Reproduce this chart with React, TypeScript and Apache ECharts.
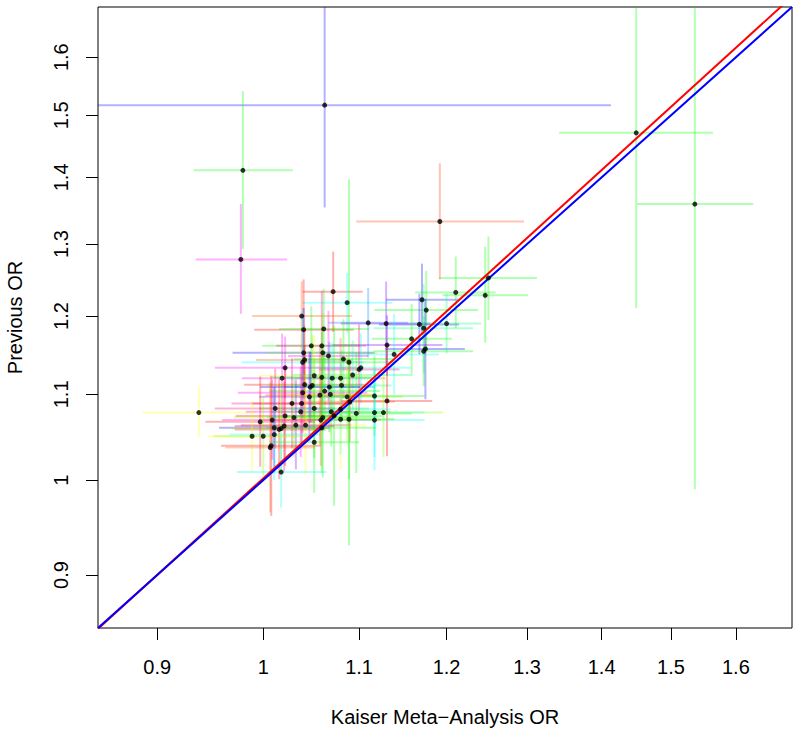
import React, { useEffect, useRef } from 'react';
import * as echarts from 'echarts';

// Kaiser meta-analysis odds ratios (x) with confidence limits
const kaiserOR = [
  1.072, 1.087, 1.039, 1.041, 1.062, 1.110, 1.130, 1.171, 1.176, 1.168,
  1.173, 1.159, 1.131, 1.139, 1.173, 1.175, 1.049, 1.060, 1.041, 1.042,
  1.040, 1.061, 1.067, 1.083, 1.089, 1.102, 1.100, 1.022, 1.019, 1.093,
  1.080, 1.052, 1.060, 1.071, 1.042, 1.050, 1.048, 1.063, 1.068, 1.081,
  1.069, 1.058, 1.040, 1.047, 1.087, 1.117, 1.131, 1.029, 1.039, 1.052,
  1.012, 1.080, 1.090, 1.070, 0.938, 1.038, 1.022, 1.031, 1.061, 1.073,
  1.097, 1.117, 1.127, 1.080, 1.089, 1.059, 0.997, 1.009, 1.033, 1.043,
  1.021, 1.011, 1.016, 1.018, 1.060, 1.117, 0.989, 1.000, 1.011, 1.008,
  1.007, 1.052, 1.018, 1.200, 1.211, 1.247, 1.251, 1.192, 1.063, 0.980,
  0.978, 1.449, 1.536,
];
const kaiserLo = [
  1.040, 1.040, 0.989, 0.991, 1.016, 1.067, 1.080, 1.130, 1.117, 1.122,
  1.116, 1.114, 1.071, 1.089, 1.116, 1.129, 0.999, 1.013, 0.970, 0.993,
  0.979, 1.004, 1.025, 1.031, 1.041, 1.049, 1.057, 0.953, 0.979, 1.030,
  1.032, 0.996, 1.009, 1.024, 0.981, 1.004, 0.997, 1.006, 1.021, 1.028,
  1.022, 1.002, 0.975, 0.996, 1.030, 1.063, 1.081, 0.969, 0.989, 0.996,
  0.953, 1.028, 1.042, 1.008, 0.887, 0.983, 0.973, 0.971, 1.004, 1.021,
  1.039, 1.063, 1.062, 1.022, 1.042, 0.998, 0.944, 0.960, 0.978, 0.982,
  0.972, 0.957, 0.972, 0.969, 1.003, 1.063, 0.946, 0.952, 0.967, 0.959,
  0.963, 1.006, 0.974, 1.158, 1.163, 1.195, 1.191, 1.097, 0.799, 0.933,
  0.935, 1.342, 1.450,
];
const kaiserHi = [
  1.104, 1.137, 1.092, 1.094, 1.111, 1.155, 1.181, 1.214, 1.238, 1.215,
  1.232, 1.206, 1.195, 1.191, 1.232, 1.222, 1.102, 1.108, 1.117, 1.093,
  1.105, 1.120, 1.110, 1.138, 1.139, 1.158, 1.145, 1.097, 1.060, 1.160,
  1.129, 1.111, 1.114, 1.120, 1.106, 1.098, 1.101, 1.123, 1.117, 1.136,
  1.118, 1.118, 1.109, 1.100, 1.149, 1.174, 1.183, 1.092, 1.092, 1.111,
  1.074, 1.135, 1.140, 1.135, 0.993, 1.097, 1.074, 1.094, 1.120, 1.128,
  1.159, 1.174, 1.196, 1.140, 1.139, 1.124, 1.053, 1.061, 1.091, 1.107,
  1.073, 1.068, 1.063, 1.070, 1.119, 1.174, 1.035, 1.051, 1.058, 1.059,
  1.053, 1.100, 1.065, 1.242, 1.260, 1.301, 1.313, 1.296, 1.413, 1.030,
  1.024, 1.564, 1.628,
];

// Previous odds ratios (y) with confidence limits
const previousOR = [
  1.233, 1.218, 1.200, 1.182, 1.183, 1.191, 1.190, 1.222, 1.208, 1.189,
  1.184, 1.170, 1.162, 1.150, 1.154, 1.157, 1.161, 1.161, 1.152, 1.143,
  1.140, 1.152, 1.148, 1.144, 1.140, 1.133, 1.131, 1.133, 1.120, 1.124,
  1.120, 1.123, 1.121, 1.120, 1.112, 1.111, 1.109, 1.104, 1.109, 1.111,
  1.100, 1.099, 1.102, 1.097, 1.097, 1.098, 1.092, 1.089, 1.089, 1.083,
  1.083, 1.082, 1.091, 1.079, 1.078, 1.079, 1.074, 1.072, 1.072, 1.074,
  1.077, 1.078, 1.078, 1.070, 1.070, 1.069, 1.067, 1.069, 1.063, 1.063,
  1.062, 1.060, 1.058, 1.059, 1.060, 1.069, 1.050, 1.050, 1.052, 1.039,
  1.037, 1.043, 1.009, 1.190, 1.232, 1.228, 1.252, 1.333, 1.517, 1.411,
  1.278, 1.471, 1.359,
];
const previousLo = [
  1.179, 1.178, 1.154, 1.118, 1.132, 1.146, 1.136, 1.175, 1.155, 1.150,
  1.126, 1.125, 1.123, 1.100, 1.110, 1.094, 1.110, 1.092, 1.095, 1.099,
  1.079, 1.102, 1.092, 1.094, 0.930, 1.089, 1.076, 1.095, 1.065, 1.081,
  1.072, 1.074, 1.067, 1.078, 1.063, 1.051, 1.066, 1.056, 1.055, 1.069,
  1.052, 1.040, 1.054, 1.044, 1.044, 1.050, 1.027, 1.036, 1.042, 1.025,
  1.036, 1.029, 1.044, 1.038, 1.049, 1.026, 1.016, 1.026, 1.003, 0.972,
  1.008, 1.026, 1.026, 1.012, 1.001, 1.016, 1.015, 1.023, 1.012, 1.006,
  1.010, 1.014, 1.001, 1.007, 1.008, 1.011, 1.010, 1.005, 1.000, 0.961,
  0.965, 0.986, 0.970, 1.151, 1.184, 1.165, 1.195, 1.250, 1.354, 1.293,
  1.203, 1.211, 0.990,
];
const previousHi = [
  1.289, 1.259, 1.247, 1.250, 1.237, 1.238, 1.247, 1.272, 1.262, 1.230,
  1.244, 1.216, 1.201, 1.203, 1.200, 1.223, 1.213, 1.234, 1.211, 1.188,
  1.206, 1.204, 1.207, 1.196, 1.397, 1.177, 1.189, 1.173, 1.177, 1.168,
  1.171, 1.174, 1.179, 1.165, 1.162, 1.175, 1.153, 1.154, 1.166, 1.155,
  1.150, 1.162, 1.152, 1.154, 1.153, 1.148, 1.161, 1.145, 1.139, 1.145,
  1.132, 1.138, 1.141, 1.122, 1.109, 1.134, 1.135, 1.121, 1.146, 1.187,
  1.152, 1.133, 1.133, 1.131, 1.144, 1.123, 1.122, 1.118, 1.118, 1.124,
  1.116, 1.109, 1.119, 1.113, 1.114, 1.130, 1.092, 1.098, 1.106, 1.123,
  1.115, 1.102, 1.049, 1.230, 1.282, 1.296, 1.311, 1.422, 1.699, 1.541,
  1.359, 1.786, 1.865,
];

// hue (degrees) of each study's error-bar colour
const barHues = [
  0, 180, 20, 0, 120, 210, 270, 240, 120, 240,
  150, 120, 270, 180, 120, 240, 120, 330, 240, 20,
  180, 90, 300, 120, 120, 180, 330, 300, 300, 150,
  20, 60, 120, 180, 0, 90, 240, 120, 210, 150,
  60, 20, 300, 270, 90, 120, 0, 330, 0, 120,
  330, 180, 20, 120, 60, 300, 0, 90, 120, 120,
  120, 180, 90, 60, 120, 20, 0, 300, 270, 60,
  330, 240, 0, 90, 120, 180, 60, 90, 180, 0,
  20, 120, 180, 150, 120, 120, 120, 15, 240, 120,
  300, 120, 120,
];

const tickValues = [0.9, 1, 1.1, 1.2, 1.3, 1.4, 1.5, 1.6];
const axisRange = [0.8485, 1.6918];
// fitted line on the log scale: log(prev) = a + b * log(kaiser)
const fitIntercept = 0.002;
const fitSlope = 1.018;

const FONT = '"Liberation Sans", Arial, Helvetica, sans-serif';

function hueColor(h: number, alpha: number): string {
  const f = (n: number) => {
    const k = (n + h / 30) % 12;
    const v = 0.5 - 0.5 * Math.max(-1, Math.min(k - 3, 9 - k, 1));
    return Math.round(v * 255);
  };
  return `rgba(${f(0)},${f(8)},${f(4)},${alpha})`;
}

export default function App() {
  const ref = useRef<HTMLDivElement>(null);

  useEffect(() => {
    if (!ref.current) return;
    const chart = echarts.init(ref.current, null, { renderer: 'svg' });
    const L = Math.log;
    const lo = L(axisRange[0]);
    const hi = L(axisRange[1]);
    const tickLn = tickValues.map(L);
    const fmt = (v: number) => {
      const t = Math.exp(v);
      return String(Math.round(t * 10) / 10);
    };
    const colors = barHues.map((h) => hueColor(h, 0.3));
    const barData = kaiserOR.map((x, i) => [
      L(x), L(previousOR[i]), L(kaiserLo[i]), L(kaiserHi[i]), L(previousLo[i]), L(previousHi[i]),
    ]);
    const pointData = kaiserOR.map((x, i) => [L(x), L(previousOR[i])]);

    const labelStyle = { color: '#000', fontSize: 20, fontFamily: FONT };

    chart.setOption({
      animation: false,
      grid: {
        left: 98, right: 8, top: 7, bottom: 104,
        show: true, borderColor: '#000', borderWidth: 1,
        containLabel: false, outerBoundsMode: 'none',
      },
      xAxis: {
        type: 'value', min: lo, max: hi,
        axisLine: { show: false, onZero: false },
        axisTick: { show: true, customValues: tickLn, length: 12, lineStyle: { color: '#000', width: 1 } },
        axisLabel: { customValues: tickLn, formatter: fmt, margin: 29, ...labelStyle },
        splitLine: { show: false },
        name: 'Kaiser Meta\u2212Analysis OR', nameLocation: 'middle', nameGap: 79,
        nameTextStyle: labelStyle,
      },
      yAxis: {
        type: 'value', min: lo, max: hi,
        axisLine: { show: false, onZero: false },
        axisTick: { show: true, customValues: tickLn, length: 12, lineStyle: { color: '#000', width: 1 } },
        axisLabel: { customValues: tickLn, formatter: fmt, margin: 27, rotate: 90, ...labelStyle },
        splitLine: { show: false },
        name: 'Previous OR', nameLocation: 'middle', nameGap: 73, nameRotate: 90,
        nameTextStyle: labelStyle,
      },
      series: [
        {
          type: 'custom',
          clip: true,
          silent: true,
          z: 2,
          encode: { x: [0, 2, 3], y: [1, 4, 5] },
          data: barData,
          renderItem: (params: any, api: any) => {
            const x = api.value(0), y = api.value(1);
            const a = api.coord([api.value(2), y]);
            const b = api.coord([api.value(3), y]);
            const c = api.coord([x, api.value(4)]);
            const d = api.coord([x, api.value(5)]);
            const stroke = colors[params.dataIndex];
            return {
              type: 'group',
              children: [
                { type: 'line', shape: { x1: a[0], y1: a[1], x2: b[0], y2: b[1] }, style: { stroke, lineWidth: 2 } },
                { type: 'line', shape: { x1: c[0], y1: c[1], x2: d[0], y2: d[1] }, style: { stroke, lineWidth: 2 } },
              ],
            };
          },
        },
        {
          type: 'line',
          data: [[lo, fitIntercept + fitSlope * lo], [hi, fitIntercept + fitSlope * hi]],
          symbol: 'none', clip: true, z: 3, silent: true,
          lineStyle: { color: '#FF0000', width: 2 },
        },
        {
          type: 'line',
          data: [[lo, lo], [hi, hi]],
          symbol: 'none', clip: true, z: 4, silent: true,
          lineStyle: { color: '#0000FF', width: 2 },
        },
        {
          type: 'scatter',
          data: pointData,
          symbolSize: 5, z: 5, silent: true,
          itemStyle: { color: '#000' },
        },
      ],
    });
    return () => chart.dispose();
  }, []);

  return <div ref={ref} style={{ position: 'absolute', left: 0, top: 0, width: 800, height: 732 }} />;
}
